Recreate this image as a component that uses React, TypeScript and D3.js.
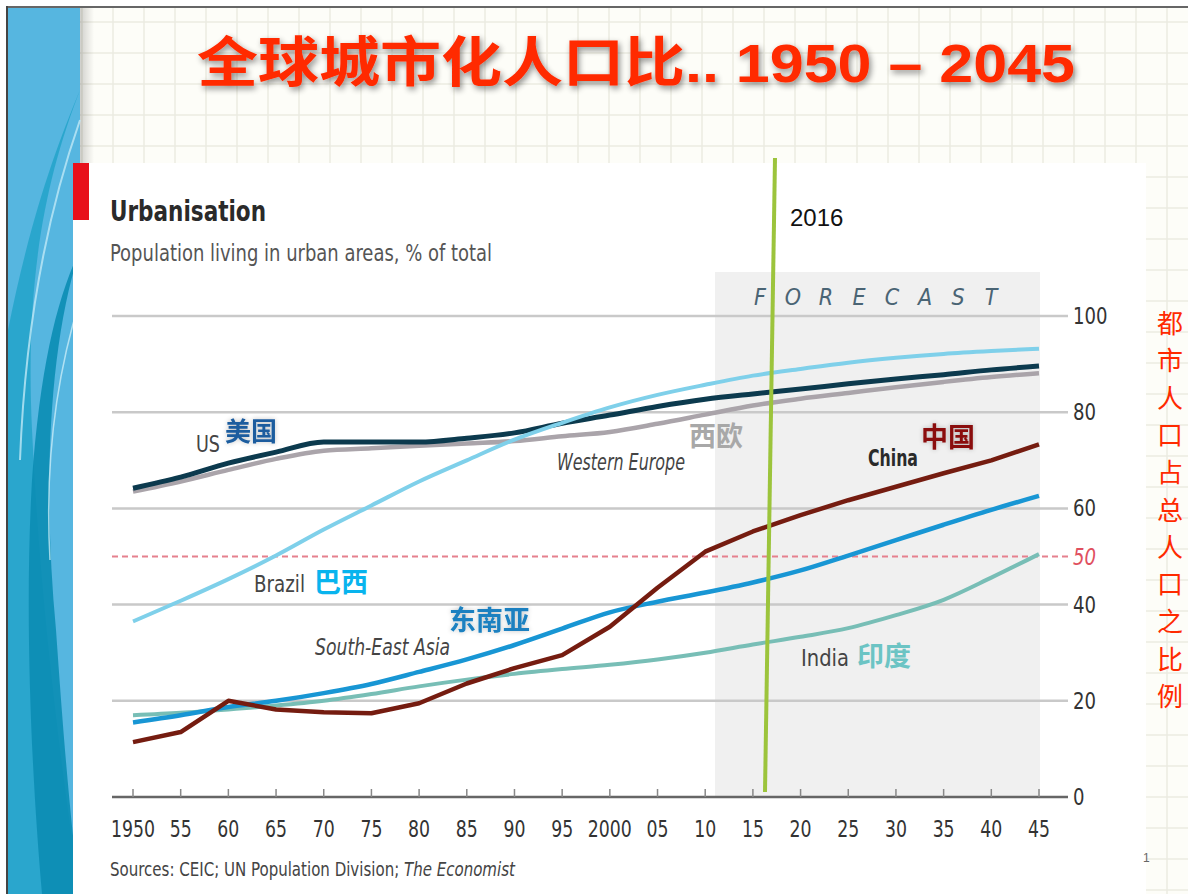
import React from "react";
import * as d3 from "d3";

const years = [1950, 1955, 1960, 1965, 1970, 1975, 1980, 1985, 1990, 1995, 2000, 2005, 2010, 2015, 2020, 2025, 2030, 2035, 2040, 2045];
const usVals = [64.2, 66.5, 69.4, 71.7, 73.8, 73.8, 73.8, 74.6, 75.7, 77.7, 79.4, 81.2, 82.7, 83.8, 84.8, 85.9, 86.9, 87.8, 88.8, 89.6];
const weVals = [63.5, 65.6, 68.0, 70.3, 72.0, 72.5, 73.0, 73.5, 74.0, 75.0, 75.9, 77.6, 79.5, 81.4, 82.8, 84.0, 85.2, 86.3, 87.3, 88.1];
const brazilVals = [36.5, 40.8, 45.3, 50.2, 55.6, 60.6, 65.6, 70.0, 74.3, 77.8, 81.0, 83.6, 85.7, 87.6, 89.0, 90.3, 91.3, 92.1, 92.7, 93.2];
const chinaVals = [11.4, 13.5, 20.0, 18.2, 17.6, 17.4, 19.5, 23.6, 26.8, 29.5, 35.4, 43.5, 51.0, 55.2, 58.6, 61.7, 64.5, 67.3, 70.0, 73.3];
const seaVals = [15.5, 17.0, 18.7, 20.0, 21.6, 23.5, 26.0, 28.6, 31.6, 35.0, 38.4, 40.6, 42.5, 44.6, 47.1, 50.2, 53.4, 56.6, 59.7, 62.6];
const indiaVals = [17.0, 17.5, 18.2, 19.0, 20.0, 21.4, 23.0, 24.4, 25.6, 26.6, 27.5, 28.6, 30.0, 31.7, 33.3, 35.1, 37.8, 41.0, 45.6, 50.5];

const yTicks = [0, 20, 40, 60, 80, 100];
const xTickLabels = ["1950", "55", "60", "65", "70", "75", "80", "85", "90", "95", "2000", "05", "10", "15", "20", "25", "30", "35", "40", "45"];
const sideText = ["都", "市", "人", "口", "占", "总", "人", "口", "之", "比", "例"];
const forecastLetters = ["F", "O", "R", "E", "C", "A", "S", "T"];

const ECON = "'Liberation Sans Narrow', 'DejaVu Sans Condensed', 'Roboto Condensed', 'Open Sans', sans-serif";
const CJK = "'Noto Sans CJK SC', 'Noto Sans', sans-serif";

export default function App() {
  const W = 1188, H = 894;
  const x = d3.scaleLinear().domain([1950, 2045]).range([133, 1039]);
  const y = d3.scaleLinear().domain([0, 100]).range([797, 316]);
  const smooth = d3.line<number>().x((_, i) => x(years[i])).y((d) => y(d)).curve(d3.curveMonotoneX);
  const straight = d3.line<number>().x((_, i) => x(years[i])).y((d) => y(d)).curve(d3.curveLinear);

  const series = [
    { vals: weVals, color: "#aaa4aa", w: 4.5, gen: smooth },
    { vals: usVals, color: "#0c3a4e", w: 5, gen: smooth },
    { vals: brazilVals, color: "#7fd0ea", w: 4, gen: smooth },
    { vals: indiaVals, color: "#78beb6", w: 4, gen: smooth },
    { vals: seaVals, color: "#1896d4", w: 4.5, gen: smooth },
    { vals: chinaVals, color: "#751c10", w: 4.5, gen: straight },
  ];

  const gridX: number[] = d3.range(0, W, 31);
  const gridY: number[] = d3.range(0, H, 31);

  return (
    <svg width={W} height={H} style={{ position: "absolute", left: 0, top: 0 }}>
      <defs>
        <filter id="tshadow" x="-5%" y="-20%" width="110%" height="160%">
          <feGaussianBlur in="SourceAlpha" stdDeviation="3" />
          <feOffset dx="2" dy="3" result="b" />
          <feComponentTransfer><feFuncA type="linear" slope="0.45" /></feComponentTransfer>
          <feMerge><feMergeNode /><feMergeNode in="SourceGraphic" /></feMerge>
        </filter>
        <filter id="lshadow" x="-10%" y="-30%" width="120%" height="160%">
          <feGaussianBlur in="SourceAlpha" stdDeviation="2.5" />
          <feOffset dx="0" dy="0" />
          <feComponentTransfer><feFuncA type="linear" slope="0.25" /></feComponentTransfer>
          <feMerge><feMergeNode /><feMergeNode in="SourceGraphic" /></feMerge>
        </filter>
        <linearGradient id="panelShade" x1="0" x2="1">
          <stop offset="0" stopColor="#000" stopOpacity="0.18" />
          <stop offset="1" stopColor="#000" stopOpacity="0" />
        </linearGradient>
      </defs>

      {/* slide background grid */}
      <rect x={0} y={0} width={W} height={H} fill="#fdfdf8" />
      {gridX.map((g) => (
        <line key={"gx" + g} x1={g + 20} x2={g + 20} y1={0} y2={H} stroke="#ebebe2" strokeWidth={1.5} />
      ))}
      {gridY.map((g) => (
        <line key={"gy" + g} x1={0} x2={W} y1={g + 22} y2={g + 22} stroke="#ebebe2" strokeWidth={1.5} />
      ))}

      {/* left decorative panel */}
      <rect x={0} y={0} width={W} height={7} fill="#fff" />
      <rect x={0} y={0} width={7} height={H} fill="#fff" />
      <line x1={6} x2={W} y1={7} y2={7} stroke="#666" strokeWidth={2} />
      <line x1={7} x2={7} y1={6} y2={H} stroke="#444" strokeWidth={2} />
      <rect x={80} y={8} width={14} height={H} fill="url(#panelShade)" />
      <rect x={8} y={8} width={72} height={H} fill="#56b6e0" />
      <path d="M80,90 C45,180 25,280 32,430 C40,600 60,760 80,894 L8,894 L8,330 C30,220 55,150 80,90 Z" fill="#1fa3c8" opacity={0.8} />
      <path d="M80,250 C50,340 42,480 56,630 C63,730 70,820 80,894 L42,894 C32,780 24,620 32,480 C40,370 56,300 80,250 Z" fill="#0b8db4" opacity={0.9} />
      <path d="M80,120 C45,220 25,330 20,460" stroke="#bfe9f6" strokeWidth={2} fill="none" opacity={0.8} />
      <path d="M80,300 C55,380 45,470 50,560" stroke="#d9f3fb" strokeWidth={1.5} fill="none" opacity={0.7} />

      {/* main title */}
      <text x={197} y={82} fontFamily={"'Liberation Sans', Arial, " + CJK} fontWeight="bold" fontSize={54} fill="#ff2a00" filter="url(#tshadow)" textLength={878} lengthAdjust="spacingAndGlyphs">
        全球城市化人口比.. 1950 – 2045
      </text>

      {/* chart white box */}
      <rect x={73} y={163} width={1073} height={H - 163} fill="#ffffff" />
      <rect x={73} y={163} width={16} height={57} fill="#e8101b" />

      <text x={110} y={221} fontFamily={ECON} fontWeight="bold" fontSize={29} fill="#2a2a2a" textLength={156} lengthAdjust="spacingAndGlyphs">Urbanisation</text>
      <text x={110} y={261} fontFamily={ECON} fontSize={23} fill="#555" textLength={382} lengthAdjust="spacingAndGlyphs">Population living in urban areas, % of total</text>

      {/* forecast shading */}
      <rect x={715} y={272} width={325} height={525} fill="#f0f0f0" />
      {forecastLetters.map((c, i) => (
        <text key={"f" + i} x={760 + i * 33} y={305} fontFamily={ECON} fontStyle="italic" fontSize={23} fill="#4a6474" textAnchor="middle">{c}</text>
      ))}

      {/* gridlines */}
      {yTicks.filter((t) => t > 0).map((t) => (
        <line key={"g" + t} x1={112} x2={1068} y1={y(t)} y2={y(t)} stroke="#c9c9c9" strokeWidth={2.5} />
      ))}
      <line x1={112} x2={1068} y1={y(50)} y2={y(50)} stroke="#e5808e" strokeWidth={2} strokeDasharray="6,4" />

      {/* axis */}
      <line x1={112} x2={1068} y1={y(0)} y2={y(0)} stroke="#666" strokeWidth={2.5} />
      {years.map((yr) => (
        <line key={"t" + yr} x1={x(yr)} x2={x(yr)} y1={y(0)} y2={y(0) - 8} stroke="#888" strokeWidth={1.5} />
      ))}
      {years.map((yr, i) => (
        <text key={"xl" + yr} x={x(yr)} y={837} fontFamily={ECON} fontSize={23} fill="#333" textAnchor="middle" textLength={xTickLabels[i].length * 11} lengthAdjust="spacingAndGlyphs">{xTickLabels[i]}</text>
      ))}
      {yTicks.map((t) => (
        <text key={"yl" + t} x={1073} y={y(t) + 8} fontFamily={ECON} fontSize={23} fill="#333" textLength={String(t).length * 11.5} lengthAdjust="spacingAndGlyphs">{t}</text>
      ))}
      <text x={1073} y={y(50) + 8} fontFamily={ECON} fontStyle="italic" fontSize={23} fill="#e0505f" textLength={23} lengthAdjust="spacingAndGlyphs">50</text>

      {/* series */}
      {series.map((s, i) => (
        <path key={"s" + i} d={s.gen(s.vals) || ""} fill="none" stroke={s.color} strokeWidth={s.w} strokeLinejoin="round" strokeLinecap="butt" />
      ))}

      {/* series labels */}
      <text x={196} y={452} fontFamily={ECON} fontSize={23} fill="#444" textLength={24} lengthAdjust="spacingAndGlyphs">US</text>
      <text x={225} y={441} fontFamily={CJK} fontWeight="bold" fontSize={26} fill="#1a5c9e" filter="url(#lshadow)">美国</text>
      <text x={254} y={592} fontFamily={ECON} fontSize={23} fill="#444" textLength={51} lengthAdjust="spacingAndGlyphs">Brazil</text>
      <text x={314} y={592} fontFamily={CJK} fontWeight="bold" fontSize={27} fill="#08b4ee">巴西</text>
      <text x={315} y={655} fontFamily={ECON} fontStyle="italic" fontSize={23} fill="#444" textLength={135} lengthAdjust="spacingAndGlyphs">South-East Asia</text>
      <text x={449} y={630} fontFamily={CJK} fontWeight="bold" fontSize={27} fill="#1a80c0" filter="url(#lshadow)">东南亚</text>
      <text x={557} y={470} fontFamily={ECON} fontStyle="italic" fontSize={23} fill="#444" textLength={128} lengthAdjust="spacingAndGlyphs">Western Europe</text>
      <text x={689} y={446} fontFamily={CJK} fontWeight="bold" fontSize={27} fill="#a8a8a8">西欧</text>
      <text x={868} y={466} fontFamily={ECON} fontWeight="bold" fontSize={23} fill="#2a2a2a" textLength={50} lengthAdjust="spacingAndGlyphs">China</text>
      <text x={921} y={447} fontFamily={CJK} fontWeight="bold" fontSize={27} fill="#8a0a0a" filter="url(#lshadow)">中国</text>
      <text x={801} y={666} fontFamily={ECON} fontSize={23} fill="#444" textLength={48} lengthAdjust="spacingAndGlyphs">India</text>
      <text x={857} y={666} fontFamily={CJK} fontWeight="bold" fontSize={27} fill="#6cc4c4">印度</text>

      {/* 2016 marker */}
      <line x1={775} y1={158} x2={765} y2={792} stroke="#9cc43c" strokeWidth={4} />
      <text x={790} y={226} fontFamily="'Liberation Sans', Arial, sans-serif" fontSize={24} fill="#111">2016</text>

      <g transform="translate(110,876) scale(0.88,1)">
        <text x={0} y={0} fontFamily={ECON} fontSize={19} fill="#444">
          Sources: CEIC; UN Population Division; <tspan fontStyle="italic">The Economist</tspan>
        </text>
      </g>

      {/* right side vertical caption */}
      {sideText.map((c, i) => (
        <text key={"sc" + i} x={1170} y={333 + i * 37.3} fontFamily={CJK} fontSize={26} fill="#ff2a00" textAnchor="middle">{c}</text>
      ))}
      <text x={1143} y={862} fontFamily="'Liberation Sans', Arial, sans-serif" fontSize={12} fill="#666">1</text>
    </svg>
  );
}
